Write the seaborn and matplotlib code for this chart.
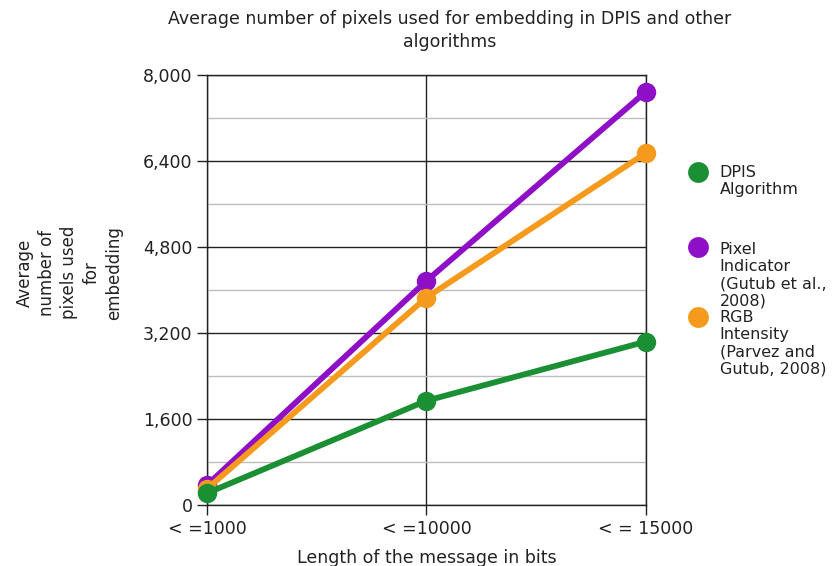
import matplotlib
matplotlib.use("Agg")
import matplotlib.pyplot as plt
from matplotlib.lines import Line2D
from matplotlib.ticker import MultipleLocator, FuncFormatter
import numpy as np
import pandas as pd
import seaborn as sns

# Message-length categories
categories = ["< =1000", "< =10000", "< = 15000"]

# Average number of pixels used for embedding per algorithm
dpis = [220, 1940, 3040]
pixel_indicator = [370, 4170, 7690]
rgb_intensity = [300, 3860, 6550]

name_dpis = "DPIS\nAlgorithm"
name_pixel = "Pixel\nIndicator\n(Gutub et al.,\n2008)"
name_rgb = "RGB\nIntensity\n(Parvez and\nGutub, 2008)"

palette = {name_dpis: "#1b8f33", name_pixel: "#8e0fc6", name_rgb: "#f59a1c"}

df = pd.DataFrame({
    "x": list(range(len(categories))) * 3,
    "value": pixel_indicator + rgb_intensity + dpis,
    "series": np.repeat([name_pixel, name_rgb, name_dpis], len(categories)),
})

sns.set_style("white")
plt.rcParams["font.family"] = ["DejaVu Sans"]

fig = plt.figure(figsize=(8.36, 5.66), dpi=100)
ax = fig.add_axes([0.2476, 0.1078, 0.7727 - 0.2476, 0.8675 - 0.1078])

# Grid: light minor lines every 800, dark major lines every 1600
ax.set_ylim(0, 8000)
ax.set_xlim(0, 2)
ax.yaxis.set_major_locator(MultipleLocator(1600))
ax.yaxis.set_minor_locator(MultipleLocator(800))
ax.yaxis.set_major_formatter(FuncFormatter(lambda v, p: f"{int(v):,}"))
ax.grid(True, which="major", axis="both", color="#222222", linewidth=1.0)
ax.grid(True, which="minor", axis="y", color="#bdbdbd", linewidth=1.0)
ax.set_axisbelow(True)

# Draw order: pixel indicator, then RGB intensity, then DPIS on top
sns.lineplot(
    data=df, x="x", y="value", hue="series",
    hue_order=[name_pixel, name_rgb, name_dpis],
    palette=palette, marker="o", markersize=14, markeredgewidth=0,
    linewidth=4.2, legend=False, ax=ax, clip_on=False, zorder=3,
)

ax.set_xticks(range(len(categories)))
ax.set_xticklabels(categories)
ax.tick_params(axis="both", which="major", labelsize=12.5, length=7.5,
               width=1, color="#222222", pad=3, direction="out",
               bottom=True, left=True, labelcolor="#222222")
ax.tick_params(axis="y", which="minor", length=0)

for side in ["top", "right", "left", "bottom"]:
    ax.spines[side].set_visible(True)
    ax.spines[side].set_color("#222222")
    ax.spines[side].set_linewidth(1.0)

ax.set_xlabel("Length of the message in bits", fontsize=12.5,
              labelpad=8, color="#222222")
ax.set_ylabel("")
fig.text(0.083, 0.518, "Average\nnumber of\npixels used\nfor\nembedding",
         rotation=90, ha="center", va="center", fontsize=12,
         multialignment="center", linespacing=1.3, color="#222222")

fig.text(0.538, 0.983,
         "Average number of pixels used for embedding in DPIS and other\nalgorithms",
         ha="center", va="top", fontsize=12.5, linespacing=1.35,
         color="#222222")

# Legend: round swatches beside multi-line labels
swatch_y = [0.696, 0.564, 0.440]
label_top = [0.7085, 0.5724, 0.4523]
for name, sy, ty in zip([name_dpis, name_pixel, name_rgb], swatch_y, label_top):
    fig.add_artist(Line2D([0.835], [sy], marker="o", markersize=15,
                          color=palette[name], markeredgewidth=0,
                          transform=fig.transFigure))
    fig.text(0.861, ty, name, ha="left", va="top",
             fontsize=11.5, linespacing=1.17, color="#222222")

fig.savefig("out.png", dpi=100, facecolor="white")
